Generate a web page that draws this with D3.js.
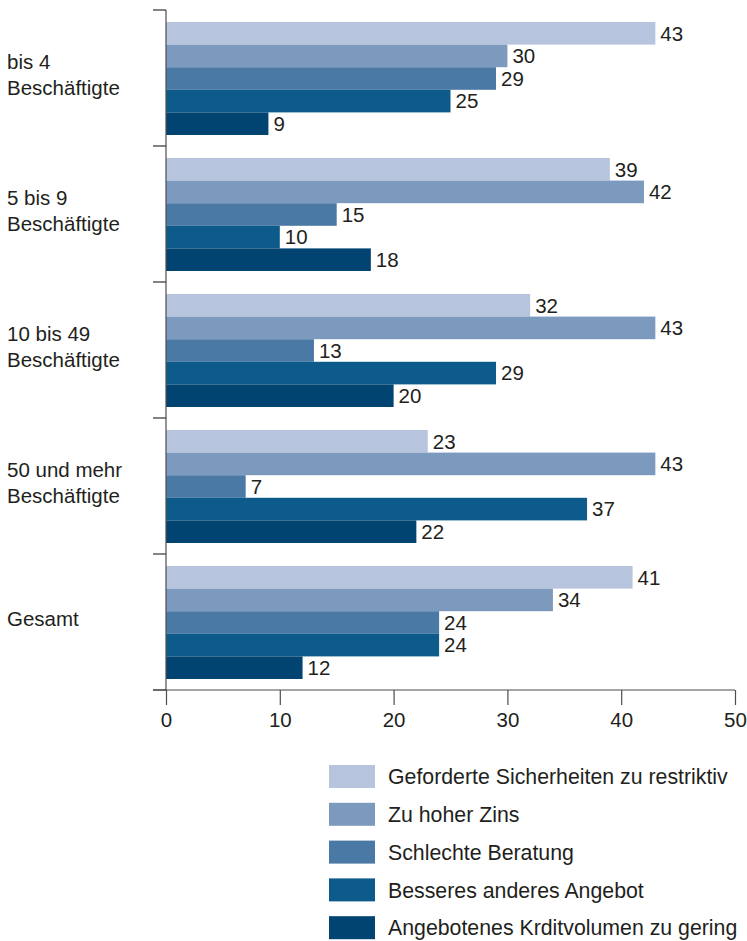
<!DOCTYPE html>
<html>
<head>
<meta charset="utf-8">
<script src="https://d3js.org/d3.v7.min.js"></script>
<style>
  body { margin: 0; background: #fff; }
  text { font-family: "Liberation Sans", Arial, sans-serif; fill: #231f20; }
</style>
</head>
<body>
<div id="chart"></div>
<script>
// categories (rows) and their labels, split in lines
var categories = ["bis 4 Beschäftigte", "5 bis 9 Beschäftigte", "10 bis 49 Beschäftigte", "50 und mehr Beschäftigte", "Gesamt"];
var categoryLines = [["bis 4", "Beschäftigte"], ["5 bis 9", "Beschäftigte"], ["10 bis 49", "Beschäftigte"], ["50 und mehr", "Beschäftigte"], ["Gesamt"]];

// series names
var series = [
  "Geforderte Sicherheiten zu restriktiv",
  "Zu hoher Zins",
  "Schlechte Beratung",
  "Besseres anderes Angebot",
  "Angebotenes Krditvolumen zu gering"
];

// values per series, one per category
var sicherheiten = [43, 39, 32, 23, 41];
var zins         = [30, 42, 43, 43, 34];
var beratung     = [29, 15, 13, 7, 24];
var angebot      = [25, 10, 29, 37, 24];
var volumen      = [9, 18, 20, 22, 12];

var xTicks = [0, 10, 20, 30, 40, 50];

var colors = ["#b6c4dd", "#7c9abe", "#4b79a5", "#0c5b8b", "#014371"];

var allValues = [sicherheiten, zins, beratung, angebot, volumen];

var width = 747, height = 941;
var svg = d3.select("#chart").append("svg")
  .attr("width", width)
  .attr("height", height);

var x = d3.scaleLinear().domain([0, 50]).range([166, 735]);
var y = d3.scaleBand().domain(categories).range([10, 690]);
var inner = d3.scaleBand().domain(series).range([12, y.bandwidth() - 11]);

// bars
var rows = svg.selectAll("g.row")
  .data(categories)
  .enter().append("g")
    .attr("class", "row")
    .attr("transform", function(d) { return "translate(0," + y(d) + ")"; });

rows.each(function(cat, ci) {
  var g = d3.select(this);
  var recs = series.map(function(s, si) { return {s: s, v: allValues[si][ci], c: colors[si]}; });
  g.selectAll("rect")
    .data(recs)
    .enter().append("rect")
      .attr("x", x(0))
      .attr("y", function(d) { return inner(d.s); })
      .attr("width", function(d) { return x(d.v) - x(0); })
      .attr("height", inner.bandwidth())
      .attr("fill", function(d) { return d.c; });
  g.selectAll("text.val")
    .data(recs)
    .enter().append("text")
      .attr("class", "val")
      .attr("x", function(d) { return x(d.v) + 5; })
      .attr("y", function(d) { return inner(d.s) + inner.bandwidth() / 2; })
      .attr("dy", "0.36em")
      .attr("font-size", 20.5)
      .text(function(d) { return d.v; });
});

// y axis: line with ticks at band boundaries
var bounds = categories.map(function(c) { return y(c); }).concat([y.range()[1]]);
svg.append("line")
  .attr("x1", 166).attr("x2", 166)
  .attr("y1", 10).attr("y2", 690)
  .attr("stroke", "#4d4d4d").attr("stroke-width", 1.2);
svg.selectAll("line.ytick")
  .data(bounds)
  .enter().append("line")
    .attr("class", "ytick")
    .attr("x1", 153).attr("x2", 166)
    .attr("y1", function(d) { return d; })
    .attr("y2", function(d) { return d; })
    .attr("stroke", "#333").attr("stroke-width", 1.2);

// category labels
svg.selectAll("text.cat")
  .data(categories)
  .enter().append("text")
    .attr("class", "cat")
    .attr("x", 7)
    .attr("font-size", 20.5)
    .each(function(d, i) {
      var lines = categoryLines[i];
      var cy = y(d) + y.bandwidth() / 2 - 3;
      var t = d3.select(this);
      lines.forEach(function(l, li) {
        t.append("tspan")
          .attr("x", 7)
          .attr("y", cy + (li - (lines.length - 1) / 2) * 26)
          .attr("dy", "0.36em")
          .text(l);
      });
    });

// x axis
var xAxis = svg.append("g")
  .attr("transform", "translate(0,690)")
  .call(d3.axisBottom(x).tickValues(xTicks).tickSize(15).tickPadding(7).tickSizeOuter(0));
xAxis.select(".domain").attr("stroke", "#4d4d4d").attr("stroke-width", 1.2)
  .attr("d", "M153,0H735");
xAxis.selectAll(".tick line").attr("stroke", "#4d4d4d").attr("stroke-width", 1.2);
xAxis.selectAll(".tick text")
  .attr("font-size", 20.5)
  .attr("font-family", "Liberation Sans, Arial, sans-serif")
  .attr("fill", "#231f20");

// legend
var legend = svg.selectAll("g.legend")
  .data(series)
  .enter().append("g")
    .attr("class", "legend")
    .attr("transform", function(d, i) { return "translate(329," + (765 + i * 37.8) + ")"; });
legend.append("rect")
  .attr("width", 46).attr("height", 23)
  .attr("fill", function(d, i) { return colors[i]; });
legend.append("text")
  .attr("x", 59).attr("y", 11.5)
  .attr("dy", "0.36em")
  .attr("font-size", 21.3)
  .text(function(d) { return d; });
</script>
</body>
</html>
